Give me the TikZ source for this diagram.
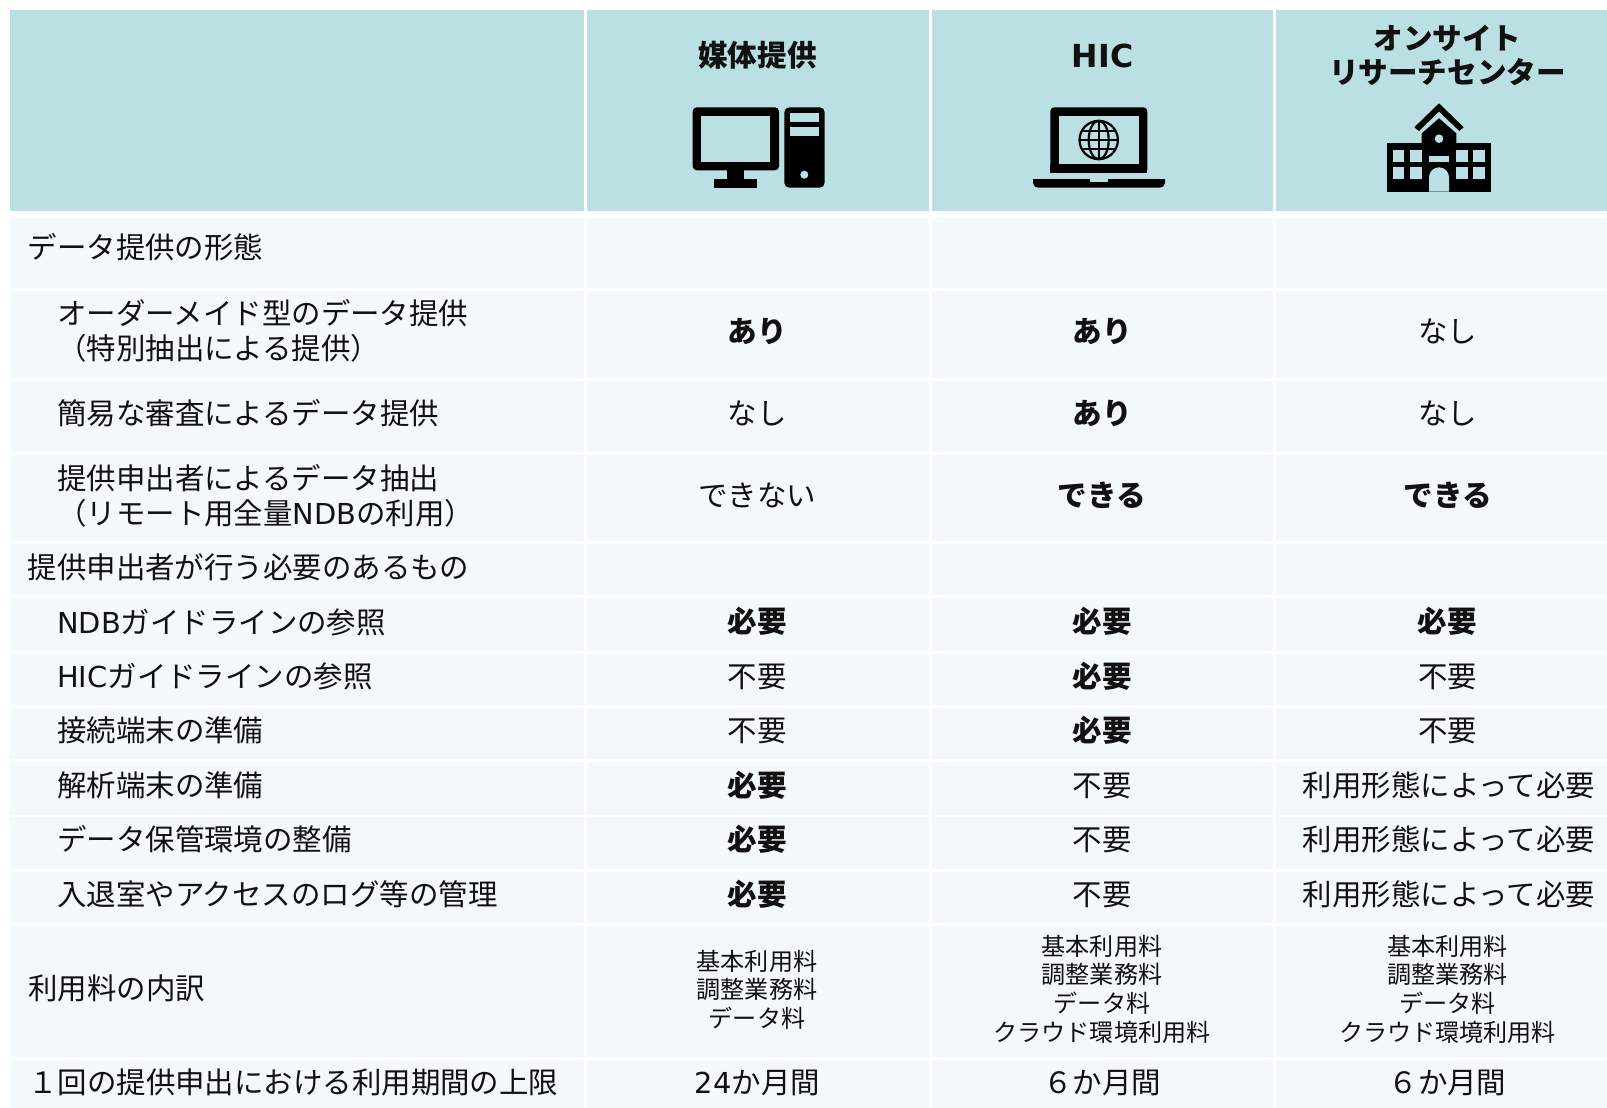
\documentclass[tikz,border=0pt]{standalone}
\usepackage{fontspec}
\setmainfont{Noto Sans CJK JP}
\newfontfamily\latfont{DejaVu Sans}
\newcommand{\lat}[1]{{\latfont\addfontfeature{Scale=0.98}#1}}
\newcommand{\latb}[1]{{\latfont\addfontfeature{Scale=1.07}#1}}
\definecolor{headbg}{HTML}{BAE0E3}
\definecolor{rowbg}{HTML}{F3F8FB}
\definecolor{ink}{HTML}{111111}
\newcommand{\cellrow}[3]{%
  \fill[#3] (10,#1) rectangle (584,#2);
  \fill[#3] (587,#1) rectangle (929,#2);
  \fill[#3] (932,#1) rectangle (1273,#2);
  \fill[#3] (1276,#1) rectangle (1607,#2);}
\tikzset{
  txt/.style={inner sep=0pt,text=ink,font=\fontsize{29.45}{34}\selectfont},
  lbl/.style={txt,anchor=west,align=left,text height=25pt,text depth=4pt},
  lblii/.style={txt,anchor=west,align=left,font=\fontsize{29.45}{34.6}\selectfont},
  val/.style={txt,anchor=center,align=center,text height=25pt,text depth=4pt},
  vbold/.style={val,font=\fontsize{29.6}{34}\selectfont\bfseries},
  vsmall/.style={txt,anchor=center,align=center,font=\fontsize{24.1}{28.6}\selectfont},
  head/.style={txt,anchor=center,align=center,font=\fontsize{29.6}{34.5}\selectfont\bfseries},
  iconk/.style={fill=black,draw=none},
  iconb/.style={fill=headbg,draw=none}
}
\begin{document}
\begin{tikzpicture}[x=1pt,y=-1pt]
\useasboundingbox (0,0) rectangle (1607,1108);
\cellrow{10}{211}{headbg}
\cellrow{218}{288}{rowbg}
\cellrow{291}{378}{rowbg}
\cellrow{381}{452}{rowbg}
\cellrow{455}{541}{rowbg}
\cellrow{544}{595}{rowbg}
\cellrow{598}{651}{rowbg}
\cellrow{654}{705}{rowbg}
\cellrow{708}{759}{rowbg}
\cellrow{762}{815}{rowbg}
\cellrow{817}{869}{rowbg}
\cellrow{872}{923}{rowbg}
\cellrow{926}{1057}{rowbg}
\cellrow{1060}{1108}{rowbg}
% header text
\node[head] (h1) at (757.5,55.5) {媒体提供};
\node[head] (h2) at (1102.5,55.5) {\latb{HIC}};
\node[head] (h3) at (1447.5,55.5) {オンサイト\\リサーチセンター};
% left labels
\node[lbl] (l1) at (27.5,248) {データ提供の形態};
\node[lblii] (l2) at (57,331) {オーダーメイド型のデータ提供\\（特別抽出による提供）};
\node[lbl] (l3) at (57,413.5) {簡易な審査によるデータ提供};
\node[lblii] (l4) at (57,496) {提供申出者によるデータ抽出\\（リモート用全量\lat{NDB}の利用）};
\node[lbl] (l5) at (27.5,567.5) {提供申出者が行う必要のあるもの};
\node[lbl] (l6) at (57,622.5) {\lat{NDB}ガイドラインの参照};
\node[lbl] (l7) at (57,676.5) {\lat{HIC}ガイドラインの参照};
\node[lbl] (l8) at (57,730.5) {接続端末の準備};
\node[lbl] (l9) at (57,785.5) {解析端末の準備};
\node[lbl] (l10) at (57,839.5) {データ保管環境の整備};
\node[lbl] (l11) at (57,894.5) {入退室やアクセスのログ等の管理};
\node[lbl] (l12) at (28,989) {利用料の内訳};
\node[lbl] (l13) at (28,1082.5) {１回の提供申出における利用期間の上限};
% values
\node[vbold] (a2) at (757,332) {あり};
\node[vbold] (b2) at (1102,332) {あり};
\node[val] (c2) at (1447.5,332) {なし};
\node[val] (a3) at (757,413.5) {なし};
\node[vbold] (b3) at (1102,413.5) {あり};
\node[val] (c3) at (1447.5,413.5) {なし};
\node[val] (a4) at (757,495.5) {できない};
\node[vbold] (b4) at (1102,495.5) {できる};
\node[vbold] (c4) at (1447.5,495.5) {できる};
\node[vbold] (a6) at (757,622) {必要};
\node[vbold] (b6) at (1102,622) {必要};
\node[vbold] (c6) at (1447.5,622) {必要};
\node[val] (a7) at (757,676.5) {不要};
\node[vbold] (b7) at (1102,676.5) {必要};
\node[val] (c7) at (1447.5,676.5) {不要};
\node[val] (a8) at (757,730.5) {不要};
\node[vbold] (b8) at (1102,730.5) {必要};
\node[val] (c8) at (1447.5,730.5) {不要};
\node[vbold] (a9) at (757,785.5) {必要};
\node[val] (b9) at (1102,785.5) {不要};
\node[val] (c9) at (1449,785.5) {利用形態によって必要};
\node[vbold] (a10) at (757,839.5) {必要};
\node[val] (b10) at (1102,839.5) {不要};
\node[val] (c10) at (1449,839.5) {利用形態によって必要};
\node[vbold] (a11) at (757,894.5) {必要};
\node[val] (b11) at (1102,894.5) {不要};
\node[val] (c11) at (1449,894.5) {利用形態によって必要};
\node[vsmall] (a12) at (757,989.5) {基本利用料\\調整業務料\\データ料};
\node[vsmall] (b12) at (1102,989) {基本利用料\\調整業務料\\データ料\\クラウド環境利用料};
\node[vsmall] (c12) at (1447.5,989) {基本利用料\\調整業務料\\データ料\\クラウド環境利用料};
\node[val] (a13) at (757.5,1082.5) {\lat{24}か月間};
\node[val] (b13) at (1102,1082.5) {６か月間};
\node[val] (c13) at (1447.5,1082.5) {６か月間};
% desktop icon
\fill[iconk,rounded corners=4pt] (692.7,107.3) rectangle (779,170.3);
\fill[iconb] (701.3,116) rectangle (770.3,161.7);
\fill[iconk] (727,170) rectangle (744,180);
\fill[iconk] (714,179) rectangle (757.3,187.7);
\fill[iconk,rounded corners=5pt] (784.3,107.3) rectangle (824.7,187.7);
\fill[iconb] (790.3,113) rectangle (818.7,121.7);
\fill[iconb] (790.3,127.3) rectangle (818.7,136);
\fill[iconb] (804.3,174.7) circle (4);
% laptop icon
\fill[iconk,rounded corners=4pt] (1050.3,180) rectangle (1147.3,107.3);
\fill[headbg] (1045,173.3) rectangle (1152,179);
\fill[iconb] (1059,116) rectangle (1139,164.3);
\fill[iconk,rounded corners=5pt] (1033,172) rectangle (1165,187.7);
\fill[headbg] (1028,170) rectangle (1170,179);
\fill[iconk] (1050.3,165) rectangle (1147.3,173.3);
\fill[iconb] (1090.3,179) rectangle (1107.7,181.7);
\begin{scope}[draw=black,line width=2.2pt]
\draw (1098.7,140) circle (19.2);
\draw (1098.7,140) ellipse (10 and 19.2);
\draw (1098.7,121) -- (1098.7,159);
\draw (1080,140) -- (1117.5,140);
\draw (1083,130.7) -- (1114.5,130.7);
\draw (1083,149.3) -- (1114.5,149.3);
\end{scope}
% school icon
\fill[iconk] (1439,103.3) -- (1463.7,127.3) -- (1459.3,131) -- (1439,111.5) -- (1419,131) -- (1414.3,127.3) -- cycle;
\fill[iconk] (1421.7,144) -- (1421.7,133.3) -- (1439,118.3) -- (1456.3,133.3) -- (1456.3,144) -- cycle;
\fill[iconb] (1439,138.7) circle (4.3);
\fill[iconk] (1387.3,143.3) rectangle (1490.7,191.7);
\foreach \xa/\xb in {1393/1404.3,1410.3/1421.7,1456.3/1467.7,1473.3/1485}{
  \fill[iconb] (\xa,150) rectangle (\xb,161.7);
  \fill[iconb] (\xa,167.3) rectangle (\xb,179);
}
\fill[iconb] (1429,156) rectangle (1449,161.7);
\fill[iconb] (1429,191.7) -- (1429,177.3) arc[start angle=180,end angle=360,x radius=10,y radius=10] -- (1449,191.7) -- cycle;
\end{tikzpicture}
\end{document}
